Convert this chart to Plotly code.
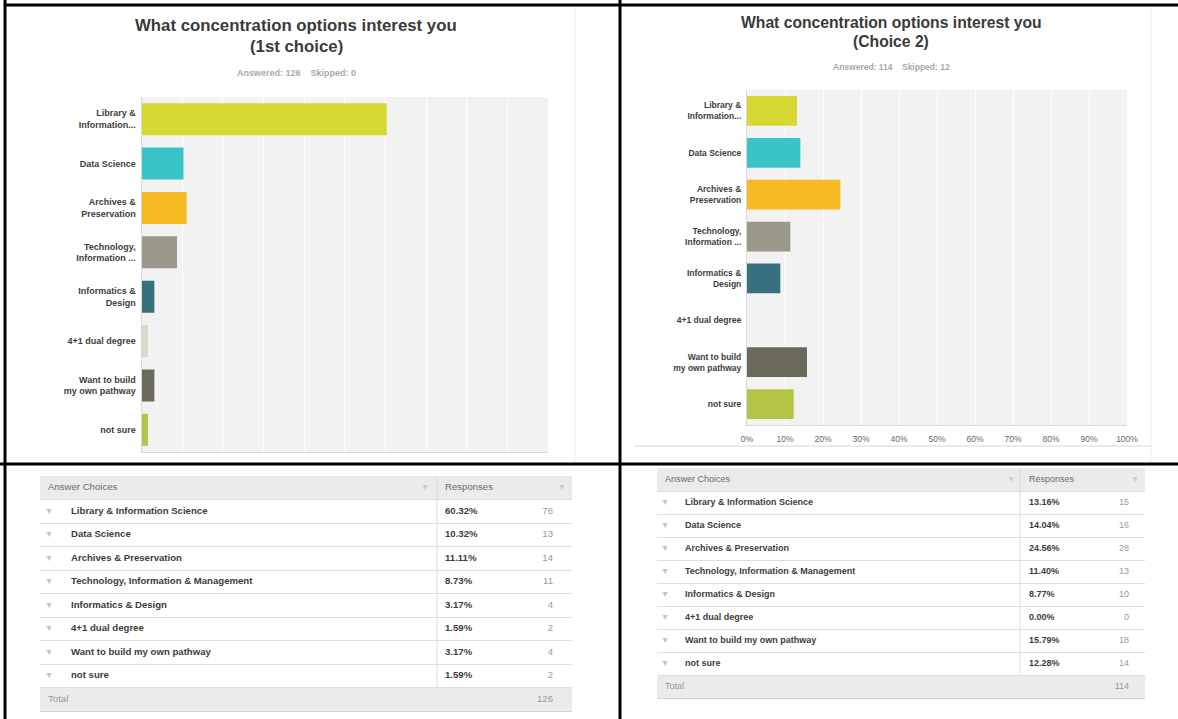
import plotly.graph_objects as go

W, H = 1178, 719


def px(x):
    return x / W


def py(y):
    return 1 - y / H


# ---------------- data ----------------
choices = ["Library & Information Science", "Data Science", "Archives & Preservation",
           "Technology, Information & Management", "Informatics & Design", "4+1 dual degree",
           "Want to build my own pathway", "not sure"]
short_labels = ["Library &<br>Information...", "Data Science", "Archives &<br>Preservation",
                "Technology,<br>Information ...", "Informatics &<br>Design", "4+1 dual degree",
                "Want to build<br>my own pathway", "not sure"]
pct1 = [60.32, 10.32, 11.11, 8.73, 3.17, 1.59, 3.17, 1.59]
cnt1 = [76, 13, 14, 11, 4, 2, 4, 2]
pct2 = [13.16, 14.04, 24.56, 11.40, 8.77, 0.00, 15.79, 12.28]
cnt2 = [15, 16, 28, 13, 10, 0, 18, 14]
total1, total2 = 126, 114
answered1, skipped1 = 126, 0
answered2, skipped2 = 114, 12
title1 = ["What concentration options interest you", "(1st choice)"]
title2 = ["What concentration options interest you", "(Choice 2)"]
header_labels = ["Answer Choices", "Responses"]
x_ticks = [0, 10, 20, 30, 40, 50, 60, 70, 80, 90, 100]
x_ticktext = [f"{v}%" for v in x_ticks]
bar_colors = ["#D7D833", "#3AC4CA", "#F6BA22", "#9B998A", "#37717F", "#DAD9CC", "#6B6A5A", "#B4C446"]

FONT = "Liberation Sans, Arial, Helvetica, sans-serif"
NB = "\u00a0"

fig = go.Figure()
shapes = []

# ---------------- bar charts ----------------
fig.add_trace(go.Bar(x=pct1, y=short_labels, orientation="h", width=0.72,
                     marker=dict(color=bar_colors, line=dict(width=0)),
                     xaxis="x", yaxis="y", showlegend=False, hoverinfo="x+y"))
fig.add_trace(go.Bar(x=pct2, y=short_labels, orientation="h", width=0.71,
                     marker=dict(color=bar_colors, line=dict(width=0)),
                     xaxis="x2", yaxis="y2", showlegend=False, hoverinfo="x+y"))
for xa, ya in (("x", "y"), ("x2", "y2")):
    shapes.append(dict(type="rect", xref=f"{xa} domain", yref=f"{ya} domain", x0=0, x1=1, y0=0, y1=1,
                       fillcolor="#f2f2f2", line=dict(width=0), layer="below"))


# ---------------- tables (text on their own axes) ----------------
def add_table(xa, ya, pcts, cnts, total, fs, tw, div, name_x, arrow_x, pct_x, cnt_x,
              harrow1, harrow2):
    rows = list(range(1, len(choices) + 1))
    total_row = len(choices) + 1
    common = dict(mode="text", xaxis=xa, yaxis=ya, showlegend=False, hoverinfo="skip",
                  cliponaxis=False)
    # header
    fig.add_trace(go.Scatter(x=[8, pct_x], y=[0, 0], text=header_labels, textposition="middle right",
                             textfont=dict(size=fs, color="#6b6b6b", family=FONT), **common))
    fig.add_trace(go.Scatter(x=[harrow1, harrow2], y=[0, 0], text=["\u25be", "\u25be"],
                             textposition="middle center",
                             textfont=dict(size=10, color="#cdcdcd", family="DejaVu Sans"), **common))
    # rows
    fig.add_trace(go.Scatter(x=[arrow_x] * len(rows), y=rows, text=["\u25be"] * len(rows),
                             textposition="middle center",
                             textfont=dict(size=10, color="#c4c4c4", family="DejaVu Sans"), **common))
    fig.add_trace(go.Scatter(x=[name_x] * len(rows), y=rows, text=[f"<b>{c}</b>" for c in choices],
                             textposition="middle right",
                             textfont=dict(size=fs, color="#3c3c3c", family=FONT), **common))
    fig.add_trace(go.Scatter(x=[pct_x] * len(rows), y=rows, text=[f"<b>{p:.2f}%</b>" for p in pcts],
                             textposition="middle right",
                             textfont=dict(size=fs, color="#3c3c3c", family=FONT), **common))
    fig.add_trace(go.Scatter(x=[cnt_x] * len(rows) + [cnt_x], y=rows + [total_row],
                             text=[str(c) for c in cnts] + [str(total)], textposition="middle left",
                             textfont=dict(size=fs, color="#9a9a9a", family=FONT), **common))
    fig.add_trace(go.Scatter(x=[8], y=[total_row], text=["Total"], textposition="middle right",
                             textfont=dict(size=fs, color="#9a9a9a", family=FONT), **common))
    # fills and divider
    for y0, y1 in ((-0.5, 0.5), (total_row - 0.5, total_row + 0.5)):
        shapes.append(dict(type="rect", xref=xa, yref=ya, x0=0, x1=tw, y0=y0, y1=y1,
                           fillcolor="#ebebeb", line=dict(width=0), layer="below"))
    shapes.append(dict(type="line", xref=xa, yref=ya, x0=div, x1=div, y0=-0.5, y1=total_row - 0.5,
                       line=dict(color="#dcdcdc", width=1), layer="below"))


add_table("x3", "y3", pct1, cnt1, total1, 9.6, 532, 397, 31, 9, 405, 513, 385, 522)
add_table("x4", "y4", pct2, cnt2, total2, 9, 488, 363, 28, 8, 372, 472, 354, 478)

n_rows = len(choices) + 2
row_bounds = [i + 0.5 for i in range(n_rows - 1)]


def table_axes(xdom, ydom, width):
    xa = dict(domain=xdom, range=[0, width], showgrid=False, zeroline=False, showticklabels=False,
              ticks="", showline=True, linecolor="#d2d2d2", linewidth=1, automargin=False,
              fixedrange=True)
    ya = dict(domain=ydom, range=[n_rows - 0.5, -0.5], tickvals=row_bounds, showgrid=True,
              gridcolor="#dedede", gridwidth=1, zeroline=False, showticklabels=False, ticks="",
              showline=False, automargin=False, fixedrange=True)
    return xa, ya


xa3, ya3 = table_axes([px(40), px(572)], [py(711), py(476)], 532)
xa4, ya4 = table_axes([px(657), px(1145)], [py(698), py(468)], 488)
xa3["anchor"], ya3["anchor"] = "y3", "x3"
xa4["anchor"], ya4["anchor"] = "y4", "x4"

axis_common = dict(showline=True, linecolor="#d9d9d9", linewidth=1, zeroline=False,
                   automargin=False, fixedrange=True)

fig.update_layout(
    template="none",
    width=W, height=H, autosize=False,
    margin=dict(l=0, r=0, t=0, b=0, pad=0),
    paper_bgcolor="white", plot_bgcolor="white",
    font=dict(family=FONT, color="#333"),
    showlegend=False,
    xaxis=dict(domain=[px(141.5), px(548)], range=[0, 100], tickvals=x_ticks,
               showgrid=True, gridcolor="white", gridwidth=1, showticklabels=False, ticks="",
               anchor="y", **axis_common),
    yaxis=dict(domain=[py(452), py(97)], autorange="reversed", showgrid=False, ticks="",
               tickfont=dict(size=9, color="#3d3d3d", weight="bold"), ticklabelstandoff=3,
               anchor="x", **axis_common),
    xaxis2=dict(domain=[px(747), px(1127)], range=[0, 100], tickvals=x_ticks, ticktext=x_ticktext,
                showgrid=True, gridcolor="white", gridwidth=1, ticks="",
                tickfont=dict(size=8.5, color="#666"), ticklabelstandoff=6,
                anchor="y2", **axis_common),
    yaxis2=dict(domain=[py(425), py(90)], autorange="reversed", showgrid=False, ticks="",
                tickfont=dict(size=8.5, color="#3d3d3d", weight="bold"), ticklabelstandoff=3,
                anchor="x2", **axis_common),
    xaxis3=xa3, yaxis3=ya3, xaxis4=xa4, yaxis4=ya4,
)

# ---------------- titles ----------------
for line, yy in zip(title1, (26, 46)):
    fig.add_annotation(text=f"<b>{line}</b>", x=px(296), y=py(yy), xref="paper", yref="paper",
                       xanchor="center", yanchor="middle", showarrow=False,
                       font=dict(size=16.8, color="#3a3a3a"))
for line, yy in zip(title2, (22, 42)):
    fig.add_annotation(text=f"<b>{line}</b>", x=px(891), y=py(yy), xref="paper", yref="paper",
                       xanchor="center", yanchor="middle", showarrow=False,
                       font=dict(size=15.7, color="#3a3a3a"))
fig.add_annotation(text=f"<b>Answered: {answered1}{NB*4}Skipped: {skipped1}</b>",
                   x=px(296), y=py(73), xref="paper", yref="paper", xanchor="center",
                   yanchor="middle", showarrow=False, font=dict(size=9, color="#a9a9a9"))
fig.add_annotation(text=f"<b>Answered: {answered2}{NB*4}Skipped: {skipped2}</b>",
                   x=px(891), y=py(67), xref="paper", yref="paper", xanchor="center",
                   yanchor="middle", showarrow=False, font=dict(size=8.5, color="#a9a9a9"))

# ---------------- frame / decoration ----------------
frame = [
    dict(type="line", x0=px(575), x1=px(575), y0=py(5), y1=py(463), line=dict(color="#ebebeb", width=1)),
    dict(type="line", x0=px(1151), x1=px(1151), y0=py(5), y1=py(463), line=dict(color="#ebebeb", width=1)),
    dict(type="line", x0=px(634), x1=px(1151), y0=py(446), y1=py(446), line=dict(color="#d6d6d6", width=1)),
    dict(type="line", x0=px(4), x1=1, y0=py(5), y1=py(5), line=dict(color="black", width=3)),
    dict(type="line", x0=px(5), x1=px(5), y0=py(0), y1=0, line=dict(color="black", width=3)),
    dict(type="line", x0=px(620), x1=px(620), y0=py(0), y1=0, line=dict(color="black", width=3)),
    dict(type="line", x0=0, x1=1, y0=py(464), y1=py(464), line=dict(color="black", width=3)),
]
for s in frame:
    s.update(xref="paper", yref="paper", layer="above")
fig.update_layout(shapes=shapes + frame)

fig.write_html("out.html")
